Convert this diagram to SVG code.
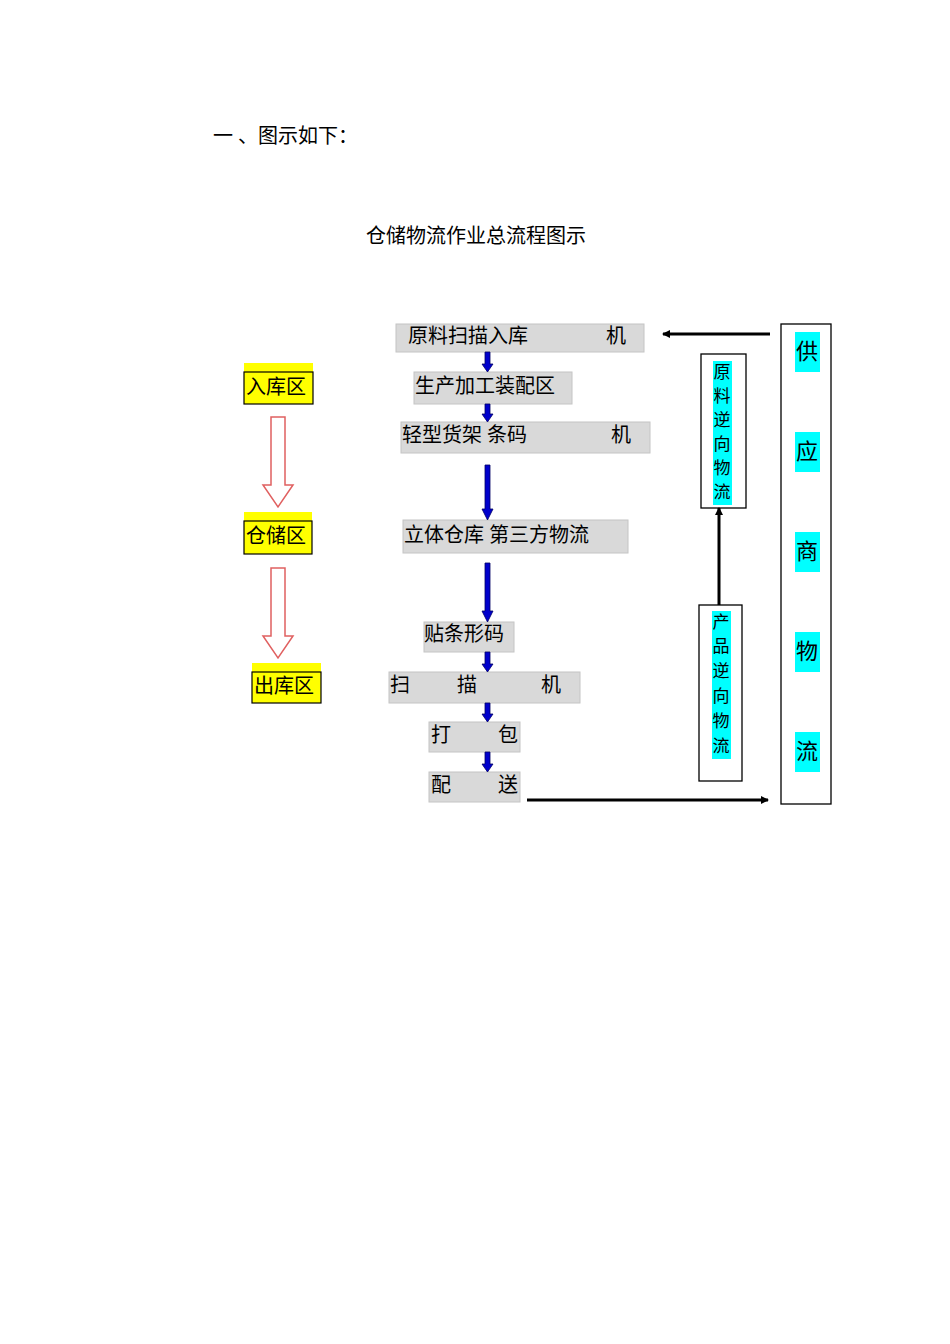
<svg xmlns="http://www.w3.org/2000/svg" width="950" height="1344" viewBox="0 0 950 1344">
<style>
text{font-family:"Liberation Serif","Noto Sans CJK SC",serif;fill:#000}
.g{fill:#d9d9d9;stroke:#c4c4c4;stroke-width:1}
.t{font-size:20px}
.y{fill:#ffff00}
.yb{fill:#ffff00;stroke:#000;stroke-width:1.2}
.c{fill:#00ffff}
.v{font-size:17px;text-anchor:middle}
.b{fill:none;stroke:#000;stroke-width:1.3}
.ba{fill:#0000cc;stroke:#000066;stroke-width:.8}
.ra{fill:#fff;stroke:#e06060;stroke-width:1.5}
</style>
<defs><marker id="ah" markerWidth="8" markerHeight="8" refX="7" refY="4" orient="auto" markerUnits="userSpaceOnUse"><path d="M0,0L8,4L0,8z" fill="#000"/></marker></defs>
<text x="213" y="143" class="t">一 、图示如下：</text>
<text x="476" y="243" class="t" text-anchor="middle">仓储物流作业总流程图示</text>
<g id="zones">
<g id="z1"><rect x="244" y="363" width="69" height="10" class="y"/><rect x="244" y="372" width="69" height="32" class="yb"/><text x="246" y="394" class="t">入库区</text></g>
<g id="z2"><rect x="244" y="512" width="68" height="10" class="y"/><rect x="244" y="521" width="68" height="33" class="yb"/><text x="246" y="543" class="t">仓储区</text></g>
<g id="z3"><rect x="252" y="663" width="69" height="10" class="y"/><rect x="252" y="672" width="69" height="31" class="yb"/><text x="254" y="693" class="t">出库区</text></g>
</g>
<g id="steps">
<g id="s1"><rect x="396" y="324" width="248" height="28" class="g"/><text x="408" y="343" class="t">原料扫描入库</text><text x="606" y="343" class="t">机</text></g>
<g id="s2"><rect x="414" y="372" width="158" height="32" class="g"/><text x="415" y="393" class="t">生产加工装配区</text></g>
<g id="s3"><rect x="401" y="422" width="249" height="31" class="g"/><text x="402" y="442" class="t">轻型货架  条码</text><text x="611" y="442" class="t">机</text></g>
<g id="s4"><rect x="403" y="520" width="225" height="33" class="g"/><text x="404" y="542" class="t">立体仓库   第三方物流</text></g>
<g id="s5"><rect x="424" y="622" width="90" height="30" class="g"/><text x="424" y="641" class="t">贴条形码</text></g>
<g id="s6"><rect x="389" y="672" width="191" height="31" class="g"/><text x="390" y="692" class="t">扫</text><text x="457" y="692" class="t">描</text><text x="541" y="692" class="t">机</text></g>
<g id="s7"><rect x="429" y="722" width="91" height="30" class="g"/><text x="431" y="742" class="t">打</text><text x="498" y="742" class="t">包</text></g>
<g id="s8"><rect x="429" y="772" width="91" height="30" class="g"/><text x="431" y="792" class="t">配</text><text x="498" y="792" class="t">送</text></g>
</g>
<g id="right">
<g id="sup"><rect x="781" y="324" width="50" height="480" class="b"/>
<rect x="795" y="332" width="25" height="40" class="c"/><rect x="795" y="432" width="25" height="40" class="c"/><rect x="795" y="532" width="25" height="40" class="c"/><rect x="795" y="632" width="25" height="40" class="c"/><rect x="795" y="732" width="25" height="40" class="c"/>
<text x="807" y="359" class="v" font-size="22" style="font-size:22px">供</text><text x="807" y="459" class="v" style="font-size:22px">应</text><text x="807" y="559" class="v" style="font-size:22px">商</text><text x="807" y="659" class="v" style="font-size:22px">物</text><text x="807" y="759" class="v" style="font-size:22px">流</text></g>
<g id="rev1"><rect x="701" y="354" width="45" height="154" class="b"/><rect x="713" y="361" width="19" height="144" class="c"/>
<text x="722" y="378" class="v">原</text><text x="722" y="402" class="v">料</text><text x="722" y="426" class="v">逆</text><text x="722" y="450" class="v">向</text><text x="722" y="474" class="v">物</text><text x="722" y="498" class="v">流</text></g>
<g id="rev2"><rect x="699" y="605" width="43" height="176" class="b"/><rect x="712" y="611" width="19" height="148" class="c"/>
<text x="721" y="628" class="v">产</text><text x="721" y="652" class="v">品</text><text x="721" y="677" class="v">逆</text><text x="721" y="702" class="v">向</text><text x="721" y="727" class="v">物</text><text x="721" y="752" class="v">流</text></g>
</g>
<g id="connectors">
<path class="ba" d="M485,352h5v12h3l-5.5,8l-5.5,-8h3z"/>
<path class="ba" d="M485,404h5v10h3l-5.5,8l-5.5,-8h3z"/>
<path class="ba" d="M485,465h5v44h3l-5.5,11l-5.5,-11h3z"/>
<path class="ba" d="M485,563h5v48h3l-5.5,11l-5.5,-11h3z"/>
<path class="ba" d="M485,652h5v12h3l-5.5,8l-5.5,-8h3z"/>
<path class="ba" d="M485,703h5v11h3l-5.5,8l-5.5,-8h3z"/>
<path class="ba" d="M485,752h5v12h3l-5.5,8l-5.5,-8h3z"/>
<path class="ra" d="M271,417h14v68h8l-15,22l-15,-22h8z"/>
<path class="ra" d="M271,568h14v68h8l-15,22l-15,-22h8z"/>
<line x1="770" y1="334" x2="663" y2="334" stroke="#000" stroke-width="3" marker-end="url(#ah)"/>
<line x1="527" y1="800" x2="768" y2="800" stroke="#000" stroke-width="3" marker-end="url(#ah)"/>
<line x1="719" y1="605" x2="719" y2="508" stroke="#000" stroke-width="3" marker-end="url(#ah)"/>
</g>
</svg>
